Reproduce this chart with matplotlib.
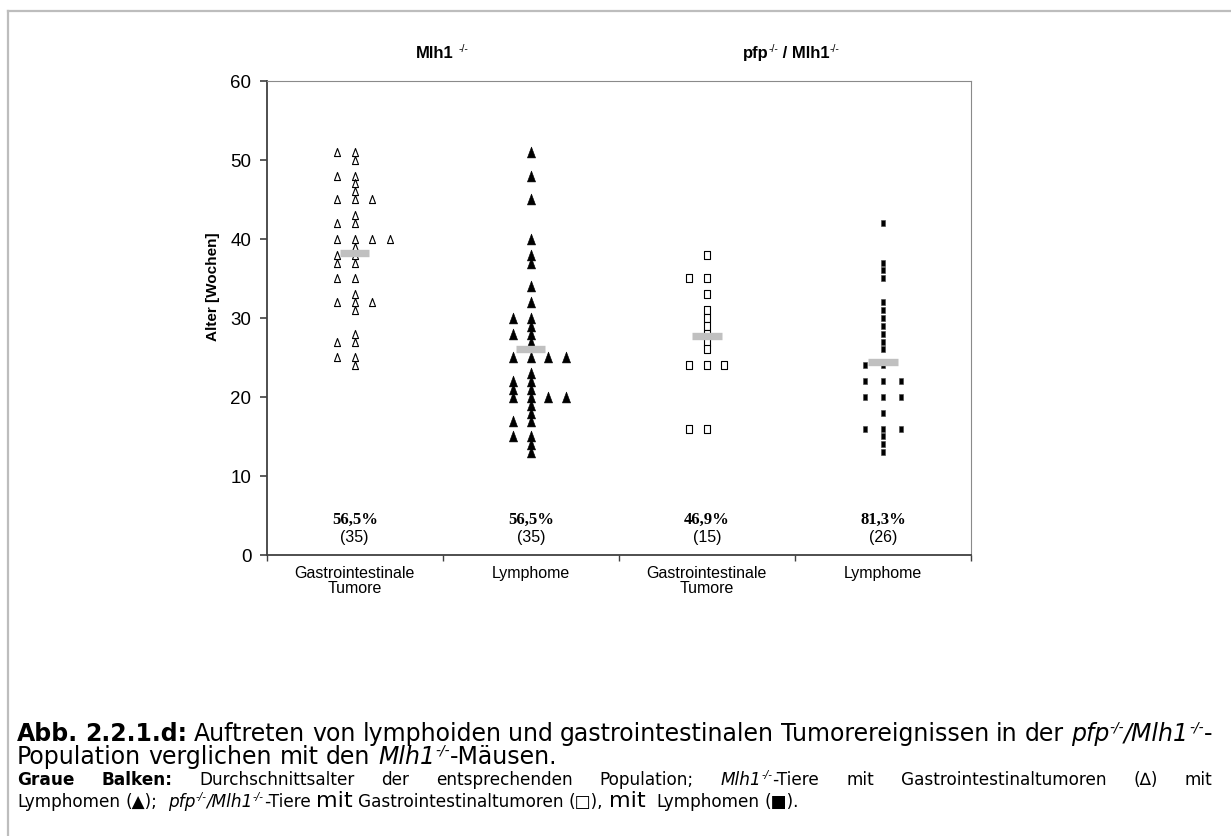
import matplotlib.pyplot as plt
from matplotlib.lines import Line2D
from matplotlib.path import Path
import numpy as np

plt.rcParams['font.family'] = ['Liberation Sans', 'DejaVu Sans']

W, H = 1231, 837

categories = ['Gastrointestinale\nTumore', 'Lymphome', 'Gastrointestinale\nTumore', 'Lymphome']
percent_labels = ['56,5%', '56,5%', '46,9%', '81,3%']
count_labels = ['(35)', '(35)', '(15)', '(26)']

# Alter [Wochen] je Tier, aufgeteilt auf die Spalten innerhalb einer Gruppe
gi_mlh1 = [[51, 48, 45, 42, 40, 38, 37, 35, 32, 27, 25],
           [51, 50, 48, 47, 46, 45, 43, 42, 40, 39, 38, 37, 35, 33, 32, 31, 28, 27, 25, 24],
           [45, 40, 32],
           [40]]
ly_mlh1 = [[30, 28, 25, 22, 21, 20, 17, 15],
           [51, 48, 45, 40, 38, 37, 34, 32, 30, 29, 28, 27, 25, 23, 22, 21, 20, 19, 18, 17, 15, 14, 13],
           [25, 20],
           [25, 20]]
gi_pfp = [[35, 24, 16],
          [38, 35, 33, 31, 30, 29, 28, 27, 26, 24, 16],
          [24],
          []]
ly_pfp = [[24, 22, 20, 16],
          [42, 37, 36, 35, 32, 31, 30, 29, 28, 27, 26, 24, 22, 20, 18, 16, 15, 14, 13],
          [22, 20, 16],
          []]
groups = [gi_mlh1, ly_mlh1, gi_pfp, ly_pfp]
col_offsets = [-0.1, 0.0, 0.1, 0.2]


def closed(verts):
    return Path(np.array(verts + [verts[0]]), closed=True)


tri = closed([(-0.75, -1), (0.75, -1), (0, 1)])
rect = closed([(-0.72, -1), (0.72, -1), (0.72, 1), (-0.72, 1)])

styles = [dict(marker=tri, ms=5.8, mfc='white', mec='black', mew=0.8),
          dict(marker=tri, ms=7.8, mfc='black', mec='black', mew=0.4),
          dict(marker=rect, ms=5.3, mfc='white', mec='black', mew=0.8),
          dict(marker=rect, ms=4.4, mfc='black', mec='#444444', mew=0.4)]

fig = plt.figure(figsize=(W / 100, H / 100), dpi=100)
renderer = fig.canvas.get_renderer()

ax = fig.add_axes([266.7 / W, (H - 556) / H, 704.3 / W, 474.3 / H])
ax.set_xlim(0.5, 4.5)
ax.set_ylim(0, 60)

for k, (cols, st) in enumerate(zip(groups, styles), start=1):
    for off, vals in zip(col_offsets, cols):
        if vals:
            ax.plot([k + off] * len(vals), vals, ls='none', zorder=3, **st)
    allv = [v for c in cols for v in c]
    ax.hlines(np.mean(allv), k - 0.083, k + 0.083, colors='#c0c0c0', lw=5.3, zorder=4)
    ax.text(k, 4.6, percent_labels[k - 1], ha='center', va='center', fontsize=12,
            fontweight='bold', family='Liberation Serif')
    ax.text(k, 2.4, count_labels[k - 1], ha='center', va='center', fontsize=11.5)

ax.set_yticks(np.arange(0, 61, 10))
ax.tick_params(axis='y', labelsize=13.5, length=5, width=1.2, pad=6, color='#404040')
ax.set_xticks([1, 2, 3, 4])
ax.set_xticklabels(categories, fontsize=11.5, linespacing=1.0)
ax.tick_params(axis='x', which='major', length=0, pad=7)
ax.set_xticks([0.5, 1.5, 2.5, 3.5, 4.5], minor=True)
ax.tick_params(axis='x', which='minor', length=4, width=1.0, color='#404040')

for side in ['left', 'bottom']:
    ax.spines[side].set_color('#404040')
    ax.spines[side].set_linewidth(1.3)
for side in ['top', 'right']:
    ax.spines[side].set_color('#8a8a8a')
    ax.spines[side].set_linewidth(0.8)

fig.text(213 / W, 1 - 287 / H, 'Alter [Wochen]', rotation=90, ha='center', va='center',
         fontsize=11, fontweight='bold')

# Rahmen oben und links
fig.add_artist(Line2D([8 / W, 1], [1 - 12 / H, 1 - 12 / H], transform=fig.transFigure,
                      color='#bdbdbd', lw=1.6))
fig.add_artist(Line2D([8 / W, 8 / W], [0, 1 - 12 / H], transform=fig.transFigure,
                      color='#bdbdbd', lw=1.6))


def run_width(s, kw):
    t = fig.text(0, 0, s, **kw)
    w = t.get_window_extent(renderer).width
    t.remove()
    return w


def space_width(kw):
    return run_width('a a', kw) - run_width('aa', kw)


def draw_word(runs, x, y):
    cx = x
    for s, kw, rise in runs:
        t = fig.text(cx / W, 1 - (y - rise) / H, s, ha='left', va='baseline', **kw)
        cx += t.get_window_extent(renderer).width
    return cx - x


def word_width(runs):
    return sum(run_width(s, kw) for s, kw, rise in runs)


def draw_line(words, x0, y, x1=None, gap_kw=None):
    widths = [word_width(w) for w in words]
    if x1 is None:
        gap = space_width(gap_kw)
    else:
        gap = (x1 - x0 - sum(widths)) / (len(words) - 1)
    x = x0
    for w, wd in zip(words, widths):
        draw_word(w, x, y)
        x += wd + gap


def draw_centered(runs, xc, y):
    draw_word(runs, xc - word_width(runs) / 2, y)


# Gruppentitel
TB = dict(fontsize=12, fontweight='bold')
TS = dict(fontsize=7.5)
draw_centered([('Mlh1', TB, 0), (' ', TB, 0), ('-/-', TS, 5.5)], 442, 58)
draw_centered([('pfp', TB, 0), ('-/-', TS, 5.5), (' / Mlh1', TB, 0), ('-/-', TS, 5.5)], 791, 58)

# Bildunterschrift
CF = 'DejaVu Sans'
N1 = dict(fontsize=17, family=CF)
B1 = dict(fontsize=17, family=CF, fontweight='bold')
I1 = dict(fontsize=17, family=CF, style='italic')
S1 = dict(fontsize=10, family=CF, style='italic')
N3 = dict(fontsize=12.2, family=CF)
B3 = dict(fontsize=12.2, family=CF, fontweight='bold')
I3 = dict(fontsize=12.2, family=CF, style='italic')
S3 = dict(fontsize=7.5, family=CF, style='italic')
M4 = dict(fontsize=16, family=CF)


def w(s, kw):
    return [(s, kw, 0)]


line1 = [w('Abb.', B1), w('2.2.1.d:', B1)] + [w(s, N1) for s in
         'Auftreten von lymphoiden und gastrointestinalen Tumorereignissen in der'.split()] + \
        [[('pfp', I1, 0), ('-/-', S1, 9), ('/Mlh1', I1, 0), ('-/-', S1, 9), ('-', N1, 0)]]
line2 = [w(s, N1) for s in 'Population verglichen mit den'.split()] + \
        [[('Mlh1', I1, 0), ('-/-', S1, 9), ('-Mäusen.', N1, 0)]]
line3 = [w('Graue', B3), w('Balken:', B3)] + [w(s, N3) for s in
         'Durchschnittsalter der entsprechenden Population;'.split()] + \
        [[('Mlh1', I3, 0), ('-/-', S3, 6.5), ('-Tiere', N3, 0)]] + \
        [w(s, N3) for s in 'mit Gastrointestinaltumoren (\u2206) mit'.split()]
line4 = [w('Lymphomen', N3), w('(\u25b2);', N3), w('', N3),
         [('pfp', I3, 0), ('-/-', S3, 6.5), ('/Mlh1', I3, 0), ('-/-', S3, 6.5), ('-Tiere', N3, 0)],
         w('mit', M4), w('Gastrointestinaltumoren', N3), w('(\u25a1),', N3), w('mit', M4),
         w('', N3), w('Lymphomen', N3), w('(\u25a0).', N3)]

draw_line(line1, 17, 741, x1=1212)
draw_line(line2, 17, 764, gap_kw=N1)
draw_line(line3, 17, 785, x1=1212)
draw_line(line4, 17, 807, gap_kw=N3)

fig.savefig('out.png', dpi=100)
